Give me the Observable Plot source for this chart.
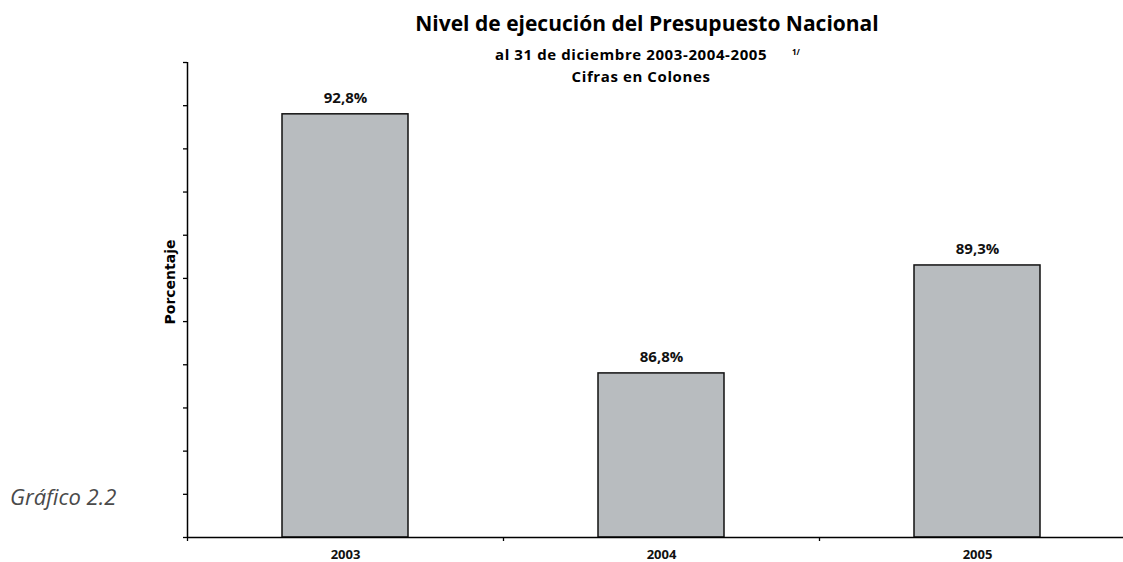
<!DOCTYPE html>
<html>
<head>
<meta charset="utf-8">
<script src="https://cdn.jsdelivr.net/npm/d3@7"></script>
<script src="https://cdn.jsdelivr.net/npm/@observablehq/plot@0.6"></script>
<style>
  html, body { margin: 0; padding: 0; background: #fff; overflow: hidden; }
  #wrap { position: relative; width: 1123px; height: 562px; }
  .t { position: absolute; white-space: nowrap; color: #000; }
  #title { font: bold 21px/21px "Open Sans", sans-serif; left: 0; width: 1294px; text-align: center; top: 13px; }
  #sub { font: bold 15px/15px "Open Sans", sans-serif; letter-spacing: 0.6px; left: 495px; top: 47px; }
  #sup { font: bold 8px/8px "Open Sans", sans-serif; left: 792px; top: 48px; }
  #sub2 { font: bold 15px/15px "Open Sans", sans-serif; letter-spacing: 0.6px; left: 0; width: 1282px; text-align: center; top: 69px; }
  #ylab { font: bold 14px/14px "DejaVu Sans", sans-serif; left: 170px; top: 282px; transform: translate(-50%, -50%) rotate(-90deg); }
  #graf { font: italic 22px/22px "Open Sans", sans-serif; color: #4a4a4a; left: 10px; top: 485px; }
  svg { position: absolute; left: 0; top: 0; }
</style>
</head>
<body>
<div id="wrap">
  <div id="chart"></div>
  <div class="t" id="title">Nivel de ejecución del Presupuesto Nacional</div>
  <div class="t" id="sub">al 31 de diciembre 2003-2004-2005</div>
  <div class="t" id="sup">1/</div>
  <div class="t" id="sub2">Cifras en Colones</div>
  <div class="t" id="ylab">Porcentaje</div>
  <div class="t" id="graf">Gráfico 2.2</div>
</div>
<script>
const years = ["2003", "2004", "2005"];
const values = [92.8, 86.8, 89.3];
const yMin = 83;
const yMax = 94;
const yTicks = d3.range(yMin, yMax + 1, 1);

const data = years.map((y, i) => ({ year: y, value: values[i] }));

const W = 1123, H = 562;
const mLeft = 187, mTop = 62, yBottom = 537, xEnd = 1135;
const step = (xEnd - mLeft) / years.length;
const fmt = v => v.toFixed(1).replace(".", ",") + "%";

const chart = Plot.plot({
  width: W,
  height: H,
  marginLeft: mLeft,
  marginRight: 0,
  marginTop: mTop,
  marginBottom: H - yBottom,
  style: { background: "transparent", overflow: "visible" },
  x: { domain: years, range: [mLeft, xEnd], paddingInner: 0.6, paddingOuter: 0.3 },
  y: { domain: [yMin, yMax], range: [yBottom, mTop] },
  marks: [
    Plot.barY(data, { x: "year", y1: yMin, y2: "value", fill: "#b8bcbf", stroke: "#111", strokeWidth: 1.5 }),
    Plot.axisY({ ticks: yTicks, tickFormat: () => "", tickSize: 4, stroke: "#000", strokeWidth: 1.3, label: null }),
    Plot.axisX({ tickFormat: () => "", tickSize: 4, dx: -step / 2, stroke: "#000", strokeWidth: 1.3, label: null }),
    Plot.axisX({ tickSize: 0, tickPadding: 12, fontSize: 13, fontWeight: "bold", fontFamily: "Open Sans", fill: "#111", label: null }),
    Plot.ruleX([0], { x: () => years[0], dx: -step / 2, y1: yMin, y2: yMax, stroke: "#000", strokeWidth: 1.5 }),
    Plot.ruleY([yMin], { stroke: "#000", strokeWidth: 1.5 }),
    Plot.text(data, { x: "year", y: "value", text: d => fmt(d.value), dy: -16, fontSize: 15, fontWeight: "bold", fontFamily: "Open Sans", fill: "#111" })
  ]
});
document.getElementById("chart").appendChild(chart);
</script>
</body>
</html>
